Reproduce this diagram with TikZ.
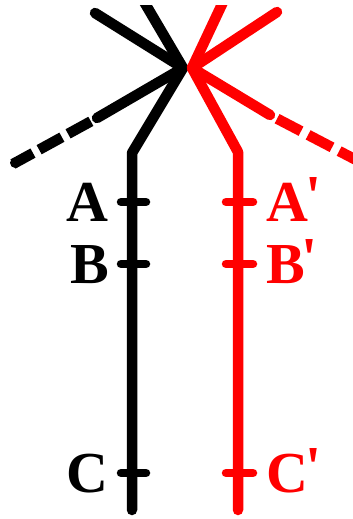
\documentclass[tikz,border=0pt]{standalone}
\usepackage{fontspec}
\setmainfont{Liberation Serif}[Ligatures=TeXOff]
\definecolor{cred}{HTML}{FF0000}
\definecolor{cblack}{HTML}{000000}
\newcommand\prm{\kern-3pt\raisebox{6pt}{'}}
\tikzset{
  limb/.style={draw=#1, line width=10.5pt, line cap=round, line join=round},
  limb/.default=cblack,
  dashlimb/.style={draw=#1, line width=10.5pt, dash pattern=on 26pt off 7pt, dash phase=26pt},
  dashlimb/.default=cblack,
  tickmark/.style={draw=#1, line width=8.5pt, line cap=round},
  tickmark/.default=cblack,
  lbl/.style={font=\fontsize{58}{60}\selectfont\bfseries, text=#1, inner sep=0pt},
  lbl/.default=cblack,
}
\begin{document}
\begin{tikzpicture}[x=1pt, y=-1pt]
  \useasboundingbox (0,0) rectangle (353,519);
  % black half
  \coordinate (bc) at (183,68);
  \coordinate (bul) at (95,13);
  \coordinate (btop) at (143,0);
  \coordinate (bdash) at (97,118);
  \coordinate (bend) at (13,164);
  \coordinate (bknee) at (132,153);
  \coordinate (bfoot) at (132,510);
  \begin{scope}
    \clip (0,6) rectangle (353,519);
    \draw[limb] (bc) -- (btop);
  \end{scope}
  \draw[limb] (bc) -- (bul);
  \draw[limb] (bc) -- (bdash);
  \draw[dashlimb] (bdash) -- (bend);
  \fill (bend) ++(2.2,-1.2) circle (5.2pt);
  \draw[limb] (bc) -- (bknee) -- (bfoot);
  % red half
  \coordinate (rc) at (192,68);
  \coordinate (rur) at (277,12);
  \coordinate (rtop) at (224,0);
  \coordinate (rdash) at (270,115);
  \coordinate (rend) at (362,163);
  \coordinate (rknee) at (238,152);
  \coordinate (rfoot) at (238,510);
  \begin{scope}
    \clip (0,6) rectangle (353,519);
    \draw[limb=cred] (rc) -- (rtop);
  \end{scope}
  \draw[limb=cred] (rc) -- (rur);
  \draw[limb=cred] (rc) -- (rdash);
  \draw[dashlimb=cred, dash pattern=on 27pt off 8pt, dash phase=27pt] (rdash) -- (rend);
  \draw[limb=cred] (rc) -- (rknee) -- (rfoot);
  % ticks and labels
  \foreach \y/\n in {202/A, 264/B, 473/C} {
    \draw[tickmark] (121,\y) -- (146,\y);
    \node[lbl, anchor=base east] (l\n) at (109,\y+19.5) {\n};
    \draw[tickmark=cred] (226,\y) -- (253,\y);
    \node[lbl=cred, anchor=base west] (r\n) at (266,\y+19.5) {\n\prm};
  }
\end{tikzpicture}
\end{document}
